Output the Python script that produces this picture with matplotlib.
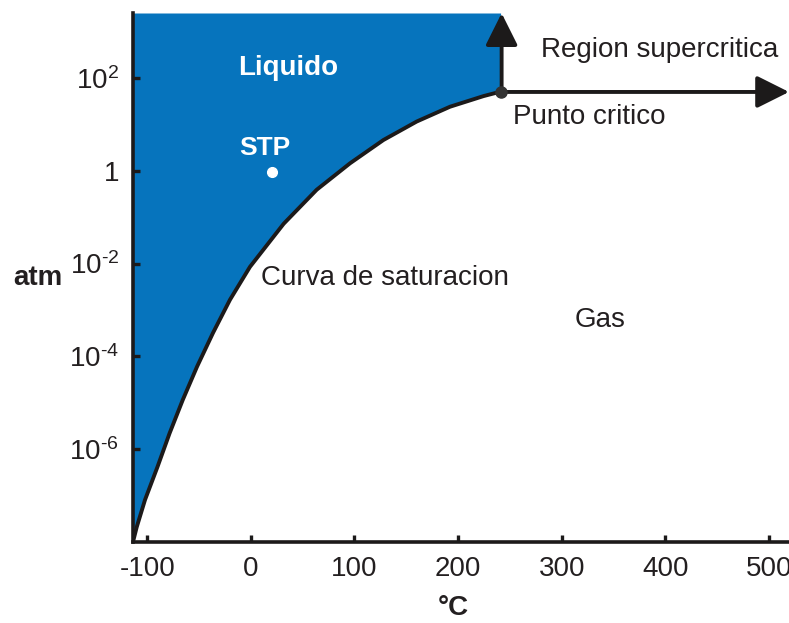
import numpy as np
import matplotlib
matplotlib.use("Agg")
import matplotlib.pyplot as plt

plt.rcParams['font.family'] = ['Liberation Sans', 'DejaVu Sans']
plt.rcParams['mathtext.fontset'] = 'custom'
plt.rcParams['mathtext.rm'] = 'Liberation Sans'
plt.rcParams['mathtext.it'] = 'Liberation Sans'

# Saturation curve (°C, atm)
curve_T = [-113.5, -110.2, -102.2, -90.1, -78.5, -65.8, -52.0, -36.6, -20.2,
           -0.9, 31.6, 63.5, 95.7, 127.9, 160.0, 192.2, 224.6, 241.0]
curve_P = [1.07e-8, 2.1e-8, 8.1e-8, 4.2e-7, 2.2e-6, 1.15e-5, 6.0e-5, 3.2e-4,
           1.66e-3, 8.5e-3, 7.2e-2, 0.39, 1.45, 4.6, 11.5, 24, 40.7, 50.7]
crit_T, crit_P = 241.0, 50.7
stp_T, stp_P = 20, 0.95

x_ticks = [-100, 0, 100, 200, 300, 400, 500]
y_ticks = [1e-6, 1e-4, 1e-2, 1, 1e2]
y_ticklabels = [r'$10^{\text{-}6}$', r'$10^{\text{-}4}$', r'$10^{\text{-}2}$', '1', r'$10^{2}$']

xmin, xmax = -113.8, 519.4
ymin, ymax = 1e-8, 10**3.40

blue = '#0674bd'
dark = '#1c1a1a'
txt = '#231f20'

fig = plt.figure(figsize=(7.89, 6.23), dpi=100)
ax = fig.add_axes([133/789, 1-542/623, 1-133/789, (542-13)/623])
ax.set_yscale('log')
ax.set_xlim(xmin, xmax)
ax.set_ylim(ymin, ymax)

ax.fill_between(curve_T + [crit_T], curve_P + [ymax], ymax, color=blue, lw=0, zorder=1)
ax.plot(curve_T, curve_P, color=dark, lw=2.8, zorder=3, solid_capstyle='round',
        solid_joinstyle='round')

arrow = dict(arrowstyle='-|>,head_length=0.9,head_width=0.45', lw=2.8,
             color=dark, shrinkA=0, shrinkB=0, mutation_scale=22)
ax.annotate('', xy=(crit_T + 1, ymax * 0.99), xytext=(crit_T + 1, crit_P),
            arrowprops=arrow, zorder=4)
ax.annotate('', xy=(xmax, crit_P * 0.985), xytext=(crit_T, crit_P * 0.985),
            arrowprops=arrow, zorder=4, annotation_clip=False)
ax.plot([crit_T], [crit_P], 'o', color='#333333', ms=8, zorder=5)
ax.plot([stp_T], [stp_P], 'o', color='white', ms=7, zorder=5)

for s in ['top', 'right']:
    ax.spines[s].set_visible(False)
for s in ['left', 'bottom']:
    ax.spines[s].set_linewidth(2.6)
    ax.spines[s].set_color(dark)
    ax.spines[s].set_zorder(6)

ax.set_xticks(x_ticks)
ax.set_xticklabels([str(v) for v in x_ticks])
ax.set_yticks(y_ticks)
ax.set_yticklabels(y_ticklabels)
ax.minorticks_off()
ax.tick_params(direction='in', length=5, width=2.4, color=dark,
               labelsize=20, labelcolor=txt, pad=10)

tk = dict(fontsize=20, color=txt, ha='center', va='center')
ax.text(35.8, 10**2.215, 'Liquido', fontsize=20, color='white', weight='bold', ha='center', va='center')
ax.text(13.8, 10**0.49, 'STP', fontsize=19, color='white', weight='bold', ha='center', va='center')
ax.text(129.6, 10**-2.31, 'Curva de saturacion', **tk)
ax.text(337, 10**-3.21, 'Gas', **tk)
ax.text(395, 10**2.60, 'Region supercritica', **tk)
ax.text(326.6, 10**1.16, 'Punto critico', **tk)

fig.text(38/789, 1-278/623, 'atm', fontsize=20, weight='bold', color=txt, ha='center', va='center')
fig.text(453/789, 1-608/623, '°C', fontsize=20, weight='bold', color=txt, ha='center', va='center')

fig.savefig('out.png', dpi=100)
